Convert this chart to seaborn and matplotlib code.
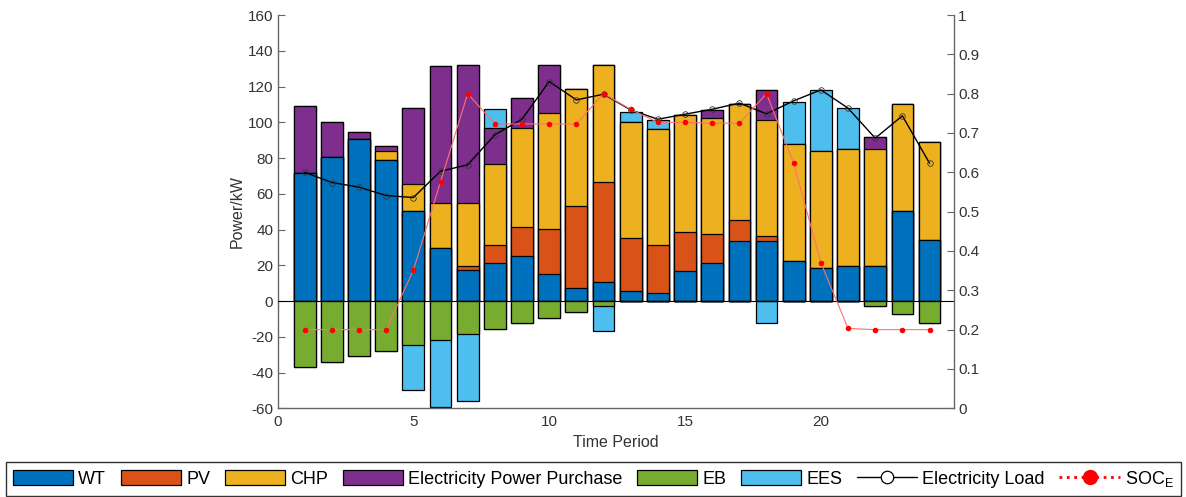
import numpy as np
import pandas as pd
import matplotlib
matplotlib.use("Agg")
import matplotlib.pyplot as plt
from matplotlib.patches import Patch
from matplotlib.lines import Line2D
from matplotlib.ticker import FuncFormatter, MultipleLocator
import seaborn as sns

# ---------------- data ----------------
periods = list(range(1, 25))
wt = [71.5, 80.4, 90.5, 79.0, 50.2, 29.9, 17.2, 21.1, 25.0, 14.9, 7.1, 10.8,
      5.8, 4.7, 17.0, 21.1, 33.8, 33.4, 22.2, 18.7, 19.8, 19.8, 50.4, 34.0]
pv = [0, 0, 0, 0, 0, 0, 2.6, 10.3, 16.3, 25.2, 46.1, 55.6,
      29.5, 26.7, 21.8, 16.4, 11.4, 3.0, 0, 0, 0, 0, 0, 0]
chp = [0, 0, 0, 5.0, 15.1, 25.0, 35.1, 45.1, 55.4, 64.9, 65.3, 65.6,
       64.9, 64.9, 65.5, 65.1, 65.1, 64.9, 65.5, 65.3, 65.1, 65.1, 59.7, 55.2]
purchase = [37.7, 20.0, 3.9, 3.0, 42.4, 76.5, 77.1, 20.5, 17.1, 26.8, 0, 0,
            0, 0, 0, 4.3, 0, 16.5, 0, 0, 0, 7.1, 0, 0]
eb = [-36.8, -34.0, -30.8, -27.8, -24.6, -21.8, -18.5, -15.7, -12.5, -9.3, -6.3, -2.6,
      0, 0, 0, 0, 0, 0, 0, 0, 0, -2.6, -7.5, -12.5]
ees = [0, 0, 0, 0, -25.4, -37.7, -37.5, 10.5, 0, 0, 0, -14.0,
       5.6, 4.7, 0, 0, 0, -12.5, 23.9, 34.1, 23.0, 0, 0, 0]
load = [72.0, 66.3, 63.7, 59.0, 57.9, 72.6, 76.2, 93.0, 101.7, 122.8, 112.5, 115.7,
        106.9, 101.7, 104.5, 107.3, 110.7, 104.7, 112.0, 118.1, 107.9, 91.1, 103.6, 77.1]
soc = [0.20, 0.20, 0.20, 0.20, 0.351, 0.576, 0.80, 0.723, 0.723, 0.723, 0.723, 0.80,
       0.76, 0.727, 0.727, 0.725, 0.725, 0.80, 0.623, 0.37, 0.203, 0.20, 0.20, 0.20]

series_names = ["WT", "PV", "CHP", "Electricity Power Purchase", "EB", "EES"]
colors = {"WT": "#0072BD", "PV": "#D95319", "CHP": "#EDB120",
          "Electricity Power Purchase": "#7E2F8E", "EB": "#77AC30", "EES": "#4DBEEE"}

df = pd.DataFrame({"period": periods, "WT": wt, "PV": pv, "CHP": chp,
                   "Purchase": purchase, "EB": eb, "EES": ees,
                   "load": load, "soc": soc})
ees_pos = df["EES"].clip(lower=0)
ees_neg = df["EES"].clip(upper=0)
df["c_wt"] = df["WT"]
df["c_pv"] = df["c_wt"] + df["PV"]
df["c_chp"] = df["c_pv"] + df["CHP"]
df["c_pur"] = df["c_chp"] + df["Purchase"]
df["c_eesp"] = df["c_pur"] + ees_pos
df["c_eb"] = df["EB"]
df["c_eesn"] = df["c_eb"] + ees_neg

# ---------------- style ----------------
sns.set_theme(style="white")
plt.rcParams["font.family"] = ["Liberation Sans", "DejaVu Sans"]
plt.rcParams["mathtext.fontset"] = "custom"
plt.rcParams["mathtext.rm"] = "Liberation Sans"
plt.rcParams["axes.unicode_minus"] = False

fig = plt.figure(figsize=(11.86, 4.97), dpi=100)
W, H = 1186, 497
ax = fig.add_axes([277.5 / W, 1 - 408.3 / H, (954 - 277.5) / W, (408.3 - 15) / H])

spine_c = "#666666"
label_c = "#333333"

# stacked bars drawn from the top of the stack down (painter's order)
layers = [("c_eesp", "EES"), ("c_pur", "Electricity Power Purchase"),
          ("c_chp", "CHP"), ("c_pv", "PV"), ("c_wt", "WT"),
          ("c_eesn", "EES"), ("c_eb", "EB")]
for col, name in layers:
    sns.barplot(data=df, x="period", y=col, native_scale=True, ax=ax,
                color=colors[name], saturation=1, errorbar=None, width=0.8,
                edgecolor="black", linewidth=0.9, zorder=2)

ax.axhline(0, color="black", lw=0.8, zorder=3)

sns.lineplot(data=df, x="period", y="load", ax=ax, color="black", lw=1.0,
             marker="o", markersize=4, markerfacecolor="none",
             markeredgecolor="#333333", markeredgewidth=0.6, zorder=4)

ax.set_xlim(0, 24.9)
ax.set_ylim(-60, 160)
ax.xaxis.set_major_locator(MultipleLocator(5))
ax.yaxis.set_major_locator(MultipleLocator(20))
ax.set_xlabel("Time Period", fontsize=11.5, color=label_c, labelpad=4)
ax.set_ylabel("Power/kW", fontsize=11.5, color=label_c, labelpad=2)
ax.tick_params(axis="both", direction="in", length=5, width=0.8, colors=spine_c,
               labelcolor=label_c, labelsize=11, pad=3)
ax.tick_params(axis="x", pad=5)
for s in ["top", "right"]:
    ax.spines[s].set_visible(False)
for s in ["left", "bottom"]:
    ax.spines[s].set_color(spine_c)
    ax.spines[s].set_linewidth(1.0)

ax2 = ax.twinx()
sns.lineplot(data=df, x="period", y="soc", ax=ax2, color="#ff7070", lw=0.8,
             marker="o", markersize=4, markerfacecolor="red",
             markeredgecolor="red", markeredgewidth=0, zorder=5)
ax2.set_ylim(0, 1)
ax2.set_xlim(0, 24.9)
ax2.yaxis.set_major_locator(MultipleLocator(0.1))
ax2.yaxis.set_major_formatter(FuncFormatter(lambda v, p: f"{v:g}"))
ax2.set_ylabel("")
ax2.tick_params(axis="y", direction="in", length=5, width=0.8, colors=spine_c,
                labelcolor=label_c, labelsize=11, pad=3)
for s in ["top", "left", "bottom"]:
    ax2.spines[s].set_visible(False)
ax2.spines["right"].set_color(spine_c)
ax2.spines["right"].set_linewidth(1.0)
ax2.grid(False)
ax.grid(False)

# ---------------- legend ----------------
handles = [Patch(facecolor=colors[n], edgecolor="black", linewidth=0.9) for n in series_names]
handles.append(Line2D([], [], color="black", lw=1.0, marker="o", markersize=9,
                      markerfacecolor="white", markeredgecolor="black", markeredgewidth=0.9))
handles.append(Line2D([], [], color="red", lw=2.0, ls=":", marker="o", markersize=10,
                      markerfacecolor="red", markeredgecolor="red"))
labels = series_names + ["Electricity Load", "SOC$_{\\mathregular{E}}$"]
leg = fig.legend(handles, labels, loc="upper left", bbox_to_anchor=(6 / W, 1 - 462 / H),
                 ncol=8, fontsize=13, frameon=True, fancybox=False,
                 edgecolor="black", handlelength=3.35, handleheight=0.94,
                 handletextpad=0.28, columnspacing=0.8, borderpad=0.38,
                 borderaxespad=0)
leg.get_frame().set_linewidth(1.0)
for t in leg.get_texts():
    t.set_color("black")

fig.savefig("out.png", dpi=100)
